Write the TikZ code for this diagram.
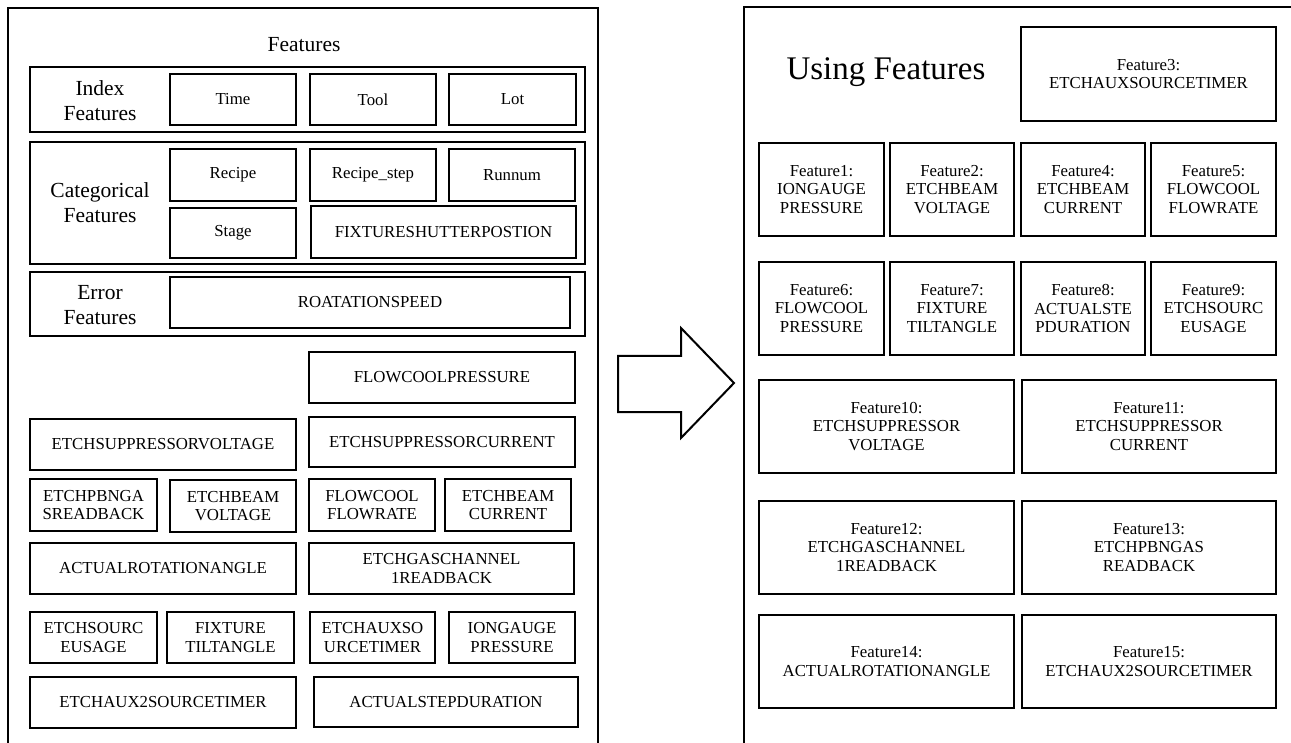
\documentclass[tikz,border=0pt]{standalone}
\usepackage{fontspec}
\setmainfont{Liberation Serif}
\begin{document}
\begin{tikzpicture}[x=1pt,y=-1pt,
  box/.style={draw, line width=1.6pt, inner sep=0pt, align=center, font=\fontsize{16.8}{18.5}\selectfont},
  grp/.style={draw, line width=1.1pt, inner sep=0pt},
  lbl/.style={align=center, font=\fontsize{21.5}{25}\selectfont, inner sep=0pt},
  frame/.style={line width=2pt}]
\useasboundingbox (0,0) rectangle (1291,743);
% left panel frame
\draw[frame] (8,746) -- (8,8) -- (598,8) -- (598,746);
\node[font=\fontsize{21.5}{24}\selectfont] (ttl) at (304,45) {Features};
% index
\node[grp, minimum width=555pt, minimum height=65pt] (idx) at (307.5,99.5) {};
\node[lbl] (idxl) at (100,101) {Index\\Features};
\node[box, minimum width=126pt, minimum height=51pt] (time) at (233,99.5) {Time};
\node[box, minimum width=126pt, minimum height=51pt] (tool) at (373,99.5) {Tool};
\node[box, line width=2.4pt, minimum width=127pt, minimum height=51pt] (lot) at (512.5,99.5) {Lot};
% categorical
\node[grp, minimum width=555pt, minimum height=122pt] (cat) at (307.5,203) {};
\node[lbl] (catl) at (100,203) {Categorical\\Features};
\node[box, minimum width=126pt, minimum height=52pt] (recipe) at (233,175) {Recipe};
\node[box, minimum width=126pt, minimum height=52pt] (rstep) at (373,175) {Recipe\_step};
\node[box, minimum width=126pt, minimum height=52pt] (runnum) at (512,175) {Runnum};
\node[box, minimum width=126pt, minimum height=50pt] (stage) at (233,233) {Stage};
\node[box, minimum width=265pt, minimum height=52pt] (fshut) at (443.5,232) {FIXTURESHUTTERPOSTION};
% error
\node[grp, minimum width=555pt, minimum height=64pt] (err) at (307.5,304) {};
\node[lbl] (errl) at (100,305) {Error\\Features};
\node[box, minimum width=400pt, minimum height=51pt] (rot) at (370,302.5) {ROATATIONSPEED};
% others
\node[box, minimum width=266pt, minimum height=51pt] (fcp) at (442,377.5) {FLOWCOOLPRESSURE};
\node[box, minimum width=266pt, minimum height=51pt] (esv) at (163,444.5) {ETCHSUPPRESSORVOLTAGE};
\node[box, minimum width=266pt, minimum height=50pt] (esc) at (442,442) {ETCHSUPPRESSORCURRENT};
\node[box, minimum width=127pt, minimum height=52pt] (pbn) at (93.5,505) {ETCHPBNGA\\SREADBACK};
\node[box, minimum width=126pt, minimum height=52pt] (ebv) at (233,506) {ETCHBEAM\\VOLTAGE};
\node[box, minimum width=126pt, minimum height=52pt] (fcf) at (372,505) {FLOWCOOL\\FLOWRATE};
\node[box, minimum width=126pt, minimum height=52pt] (ebc) at (508,505) {ETCHBEAM\\CURRENT};
\node[box, minimum width=266pt, minimum height=51pt] (ara) at (163,568.5) {ACTUALROTATIONANGLE};
\node[box, minimum width=265pt, minimum height=51pt] (egc) at (441.5,568.5) {ETCHGASCHANNEL\\1READBACK};
\node[box, minimum width=127pt, minimum height=51pt] (esu) at (93.5,637.5) {ETCHSOURC\\EUSAGE};
\node[box, minimum width=127pt, minimum height=51pt] (ftt) at (230.5,637.5) {FIXTURE\\TILTANGLE};
\node[box, minimum width=125pt, minimum height=51pt] (eax) at (372.5,637.5) {ETCHAUXSO\\URCETIMER};
\node[box, minimum width=126pt, minimum height=51pt] (igp) at (512,637.5) {IONGAUGE\\PRESSURE};
\node[box, minimum width=266pt, minimum height=51pt] (ea2) at (163,702.5) {ETCHAUX2SOURCETIMER};
\node[box, minimum width=264pt, minimum height=50pt] (asd) at (446,702) {ACTUALSTEPDURATION};
% arrow
\draw[line width=2pt, line join=miter] (618,356) -- (681,356) -- (681,328) -- (734,383) -- (681,438) -- (681,412) -- (618,412) -- cycle;
% right panel frame
\draw[frame] (744,746) -- (744,7) -- (1293,7);
\node[font=\fontsize{33}{36}\selectfont] (uf) at (886,72) {Using Features};
\node[box, minimum width=255pt, minimum height=94pt] (f3) at (1148.5,74) {Feature3:\\ETCHAUXSOURCETIMER};
\node[box, minimum width=125pt, minimum height=93pt] (f1) at (821.5,189.5) {Feature1:\\IONGAUGE\\PRESSURE};
\node[box, minimum width=124pt, minimum height=93pt] (f2) at (952,189.5) {Feature2:\\ETCHBEAM\\VOLTAGE};
\node[box, minimum width=124pt, minimum height=93pt] (f4) at (1083,189.5) {Feature4:\\ETCHBEAM\\CURRENT};
\node[box, minimum width=125pt, minimum height=93pt] (f5) at (1213.5,189.5) {Feature5:\\FLOWCOOL\\FLOWRATE};
\node[box, minimum width=125pt, minimum height=93pt] (f6) at (821.5,308.5) {Feature6:\\FLOWCOOL\\PRESSURE};
\node[box, minimum width=124pt, minimum height=93pt] (f7) at (952,308.5) {Feature7:\\FIXTURE\\TILTANGLE};
\node[box, minimum width=124pt, minimum height=93pt] (f8) at (1083,308.5) {Feature8:\\ACTUALSTE\\PDURATION};
\node[box, minimum width=125pt, minimum height=93pt] (f9) at (1213.5,308.5) {Feature9:\\ETCHSOURC\\EUSAGE};
\node[box, minimum width=255pt, minimum height=93pt] (f10) at (886.5,426.5) {Feature10:\\ETCHSUPPRESSOR\\VOLTAGE};
\node[box, minimum width=254pt, minimum height=93pt] (f11) at (1149,426.5) {Feature11:\\ETCHSUPPRESSOR\\CURRENT};
\node[box, minimum width=255pt, minimum height=93pt] (f12) at (886.5,547.5) {Feature12:\\ETCHGASCHANNEL\\1READBACK};
\node[box, minimum width=254pt, minimum height=93pt] (f13) at (1149,547.5) {Feature13:\\ETCHPBNGAS\\READBACK};
\node[box, minimum width=255pt, minimum height=93pt] (f14) at (886.5,661.5) {Feature14:\\ACTUALROTATIONANGLE};
\node[box, minimum width=254pt, minimum height=93pt] (f15) at (1149,661.5) {Feature15:\\ETCHAUX2SOURCETIMER};
\end{tikzpicture}
\end{document}
